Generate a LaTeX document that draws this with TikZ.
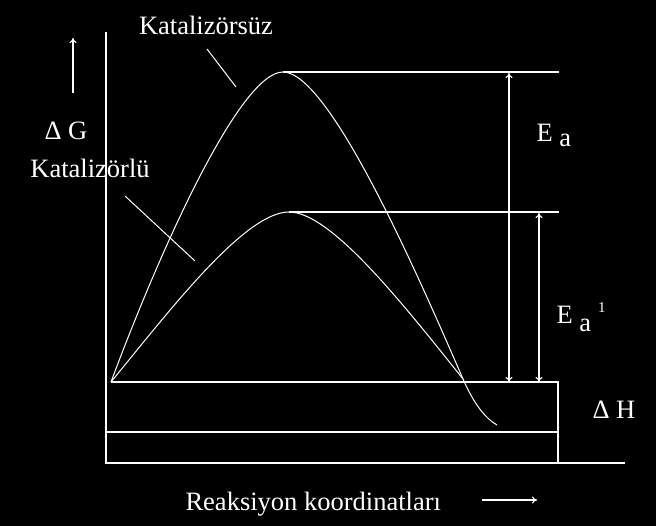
\documentclass[tikz,border=0pt]{standalone}
\usepackage{fontspec}
\setmainfont{Liberation Serif}
\usetikzlibrary{arrows.meta}

\begin{document}
\begin{tikzpicture}[
      x=1pt, y=-1pt, white, line width=1.1pt,
      lbl/.style={text=white, inner sep=0pt, font=\fontsize{26.5}{30}\selectfont},
      tip/.style={-{To[length=5pt,width=7pt]}},
      both/.style={{To[length=5pt,width=7pt]}-{To[length=5pt,width=7pt]}},
      curve/.style={line width=1pt}
    ]
    \fill[black] (0,0) rectangle (656,526);
    \useasboundingbox (0,0) rectangle (656,526);
    % axes and levels
    \coordinate (top) at (106,32);
    \coordinate (origin) at (106,463);
    \coordinate (xend) at (625,463);
    \coordinate (start) at (111,382);
    \coordinate (peakA) at (283,72);
    \coordinate (peakB) at (289,212);
    \coordinate (meet) at (463,379);
    \coordinate (tail) at (497,425);
    \coordinate (lvlA) at (559,72);
    \coordinate (lvlB) at (559,212);
    \coordinate (boxTR) at (558,382);
    \draw (top) -- (origin) -- (xend);
    \draw (start) -- (boxTR) -- (boxTR |- origin);
    \draw (origin |- 0,432) -- (boxTR |- 0,432);
    \draw (peakA) -- (lvlA);
    \draw (peakB) -- (lvlB);
    % curves
    \draw[curve] (start) .. controls (160,250) and (240,72) .. (peakA)
      .. controls (330,72) and (420,280) .. (meet)
      .. controls (474,404) and (485,418) .. (tail);
    \draw[curve] (start) .. controls (170,310) and (245,212) .. (peakB)
      .. controls (330,212) and (400,300) .. (meet);
    % energies
    \draw[both] (509,73) coordinate (EaTop) -- (509,382) coordinate (EaBot);
    \draw[both] (539,213) coordinate (EbTop) -- (539,382) coordinate (EbBot);
    % labels
    \node[lbl] (nocat) at (206,25) {Katalizörsüz};
    \node[lbl] (cat) at (90,168) {Katalizörlü};
    \node[lbl, anchor=base west] (dG) at (44,140) {Δ G};
    \node[lbl, anchor=base west] (Ea) at (536,142) {E \raisebox{-5pt}{a}};
    \node[lbl, anchor=base west] (Eb) at (556,324)
      {E \raisebox{-8pt}{a}\hspace{7pt}\raisebox{11pt}{\fontsize{15}{17}\selectfont 1}};
    \node[lbl, anchor=base west] (dH) at (592,418) {Δ H};
    \node[lbl, anchor=base west] (react) at (185,510) {Reaksiyon koordinatları};
    % pointers
    \coordinate (nocatTip) at (236,87);
    \coordinate (catTip) at (195,261);
    \draw[line width=1pt] (207,49) -- (nocatTip);
    \draw[line width=1pt] (125,196) -- (catTip);
    \draw[tip] (73,93) coordinate (gLow) -- (73,38) coordinate (gHigh);
    \draw[tip] (482,500) coordinate (rLow) -- (537,500) coordinate (rHigh);
  \end{tikzpicture}
\end{document}
